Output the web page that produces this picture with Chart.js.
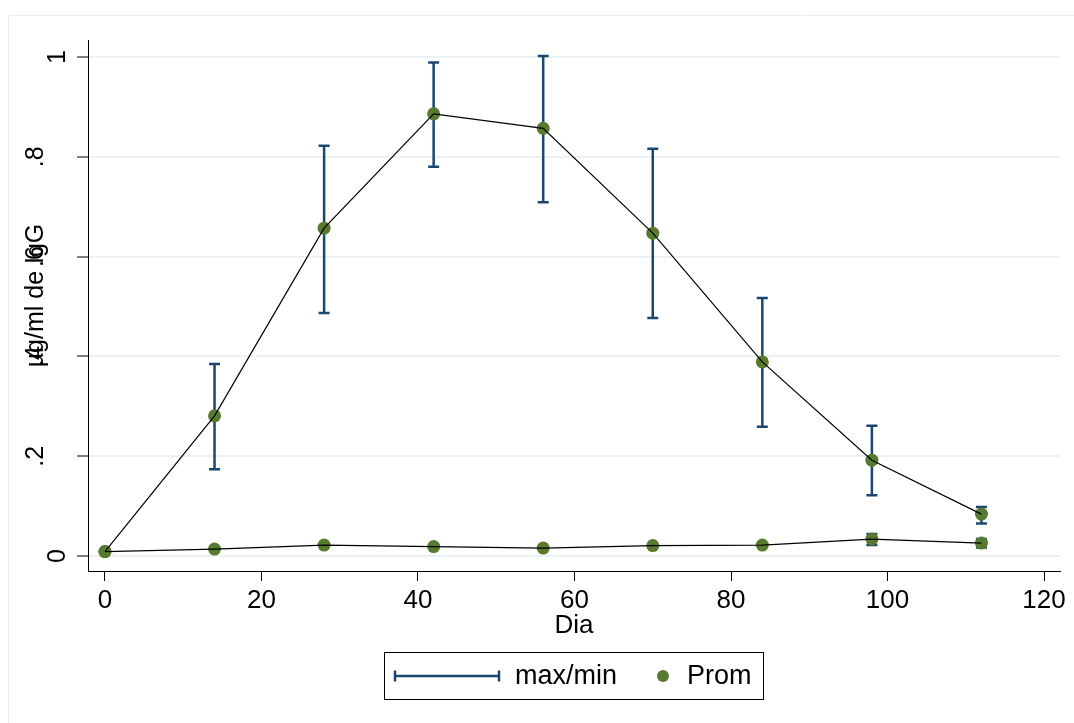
<!DOCTYPE html>
<html lang="es">
<head>
    <meta charset="UTF-8">
    <title>IgG por dia</title>
    <script src="https://cdn.jsdelivr.net/npm/chart.js"></script>
    <style>
        body {
            margin: 0;
            background: #fff;
        }
        #chart {
            display: block;
        }
    </style>
</head>
<body>
    <canvas id="chart" width="1074" height="723"></canvas>

    <script>
        // dias de muestreo
        const days = [0, 14, 28, 42, 56, 70, 84, 98, 112];

        // serie alta (promedio y rango max/min)
        const promAlto = [0.009, 0.281, 0.657, 0.886, 0.857, 0.647, 0.389, 0.192, 0.084];
        const maxAlto  = [0.009, 0.385, 0.822, 0.989, 1.002, 0.816, 0.517, 0.261, 0.098];
        const minAlto  = [0.009, 0.174, 0.487, 0.780, 0.709, 0.477, 0.259, 0.122, 0.065];

        // serie baja
        const promBajo = [0.009, 0.014, 0.022, 0.019, 0.016, 0.021, 0.022, 0.034, 0.026];
        const maxBajo  = [0.009, 0.015, 0.023, 0.020, 0.017, 0.022, 0.023, 0.044, 0.034];
        const minBajo  = [0.009, 0.013, 0.021, 0.018, 0.015, 0.020, 0.021, 0.022, 0.017];

        const xTicks = [0, 20, 40, 60, 80, 100, 120];
        const xTickLabels = ["0", "20", "40", "60", "80", "100", "120"];
        const yTicks = [0, 0.2, 0.4, 0.6, 0.8, 1];
        const yTickLabels = ["0", ".2", ".4", ".6", ".8", "1"];

        const NAVY = "#1a476f";
        const GREEN = "#587a2e";
        const FONT = "'Liberation Sans', Arial, sans-serif";

        const toXY = (ys) => days.map((d, i) => ({ x: d, y: ys[i] }));

        // barras max/min, dibujadas debajo de los puntos
        const errorBars = {
            id: "errorBars",
            beforeDatasetsDraw(chart) {
                const { ctx, scales: { x, y } } = chart;
                const cap = 5.5;
                ctx.save();
                ctx.strokeStyle = NAVY;
                ctx.lineWidth = 2.5;
                [[maxAlto, minAlto], [maxBajo, minBajo]].forEach(([hi, lo]) => {
                    days.forEach((d, i) => {
                        const px = x.getPixelForValue(d);
                        const top = y.getPixelForValue(hi[i]);
                        const bot = y.getPixelForValue(lo[i]);
                        ctx.beginPath();
                        ctx.moveTo(px, top);
                        ctx.lineTo(px, bot);
                        ctx.moveTo(px - cap, top);
                        ctx.lineTo(px + cap, top);
                        ctx.moveTo(px - cap, bot);
                        ctx.lineTo(px + cap, bot);
                        ctx.stroke();
                    });
                });
                ctx.restore();
            }
        };

        // marco, etiquetas giradas del eje y, titulo y leyenda
        const decor = {
            id: "decor",
            beforeDraw(chart) {
                const { ctx, width, height } = chart;
                ctx.save();
                ctx.strokeStyle = "#ececec";
                ctx.lineWidth = 1;
                ctx.beginPath();
                ctx.moveTo(8.5, height);
                ctx.lineTo(8.5, 15.5);
                ctx.lineTo(width, 15.5);
                ctx.stroke();
                ctx.restore();
            },
            afterDraw(chart) {
                const { ctx, chartArea, scales: { y } } = chart;
                ctx.save();
                ctx.fillStyle = "#000";
                ctx.textAlign = "center";
                ctx.textBaseline = "alphabetic";

                ctx.font = `25px ${FONT}`;
                yTicks.forEach((v, i) => {
                    const label = yTickLabels[i];
                    const bx = label.length > 1 ? y.right - 45 : y.right - 23;
                    ctx.save();
                    ctx.translate(bx, y.getPixelForValue(v));
                    ctx.rotate(-Math.PI / 2);
                    ctx.fillText(label, 0, 0);
                    ctx.restore();
                });

                ctx.font = `25px ${FONT}`;
                ctx.save();
                ctx.translate(y.right - 45, (chartArea.top + chartArea.bottom) / 2 - 10);
                ctx.rotate(-Math.PI / 2);
                ctx.fillText("µg/ml de IgG", 0, 0);
                ctx.restore();

                // leyenda
                const cx = (chartArea.left + chartArea.right) / 2;
                const top = chartArea.bottom + 81;
                const my = top + 24;
                ctx.strokeStyle = "#000";
                ctx.lineWidth = 1;
                ctx.strokeRect(Math.round(cx - 190) + 0.5, top + 0.5, 379, 47);

                ctx.strokeStyle = NAVY;
                ctx.lineWidth = 2.5;
                ctx.beginPath();
                ctx.moveTo(cx - 179, my);
                ctx.lineTo(cx - 75, my);
                ctx.moveTo(cx - 179, my - 5.5);
                ctx.lineTo(cx - 179, my + 5.5);
                ctx.moveTo(cx - 75, my - 5.5);
                ctx.lineTo(cx - 75, my + 5.5);
                ctx.stroke();

                ctx.fillStyle = GREEN;
                ctx.beginPath();
                ctx.arc(cx + 89, my, 6, 0, Math.PI * 2);
                ctx.fill();

                ctx.fillStyle = "#000";
                ctx.font = `27px ${FONT}`;
                ctx.textAlign = "left";
                ctx.textBaseline = "middle";
                ctx.fillText("max/min", cx - 59, my + 1);
                ctx.fillText("Prom", cx + 113, my + 1);
                ctx.restore();
            }
        };

        const pointDs = (ys) => ({
            type: "scatter",
            data: toXY(ys),
            showLine: false,
            pointRadius: 6.5,
            pointHoverRadius: 6.5,
            pointBackgroundColor: GREEN,
            pointBorderWidth: 0,
            order: 2
        });
        const lineDs = (ys) => ({
            type: "scatter",
            data: toXY(ys),
            showLine: true,
            borderColor: "#000",
            borderWidth: 1.2,
            pointRadius: 0,
            order: 0
        });

        new Chart(document.getElementById("chart"), {
            type: "scatter",
            data: {
                datasets: [lineDs(promAlto), lineDs(promBajo), pointDs(promAlto), pointDs(promBajo)]
            },
            options: {
                responsive: false,
                animation: false,
                layout: { padding: { top: 40, right: 14, left: 0, bottom: 0 } },
                plugins: {
                    legend: { display: false },
                    tooltip: { enabled: false }
                },
                scales: {
                    x: {
                        type: "linear",
                        min: -2.17,
                        max: 122.04,
                        afterBuildTicks: (s) => { s.ticks = xTicks.map(v => ({ value: v })); },
                        afterFit: (s) => { s.height = 152; },
                        ticks: {
                            color: "#000",
                            font: { size: 26, family: FONT },
                            padding: 4,
                            maxRotation: 0,
                            callback: (v) => xTickLabels[xTicks.indexOf(v)]
                        },
                        grid: {
                            drawOnChartArea: false,
                            drawTicks: true,
                            tickLength: 10,
                            tickColor: "#000",
                            tickWidth: 1
                        },
                        border: { display: true, color: "#000", width: 1 },
                        title: {
                            display: true,
                            text: "Dia",
                            color: "#000",
                            font: { size: 26, family: FONT },
                            padding: { top: 0, bottom: 82 }
                        }
                    },
                    y: {
                        type: "linear",
                        min: -0.030,
                        max: 1.034,
                        afterBuildTicks: (s) => { s.ticks = yTicks.map(v => ({ value: v })); },
                        afterFit: (s) => { s.width = 88; },
                        ticks: { display: false },
                        grid: {
                            color: "#eaf2f3",
                            lineWidth: 2,
                            drawTicks: true,
                            tickLength: 11,
                            tickColor: "#000",
                            tickWidth: 1
                        },
                        border: { display: true, color: "#000", width: 1 }
                    }
                }
            },
            plugins: [errorBars, decor]
        });
    </script>
</body>
</html>
